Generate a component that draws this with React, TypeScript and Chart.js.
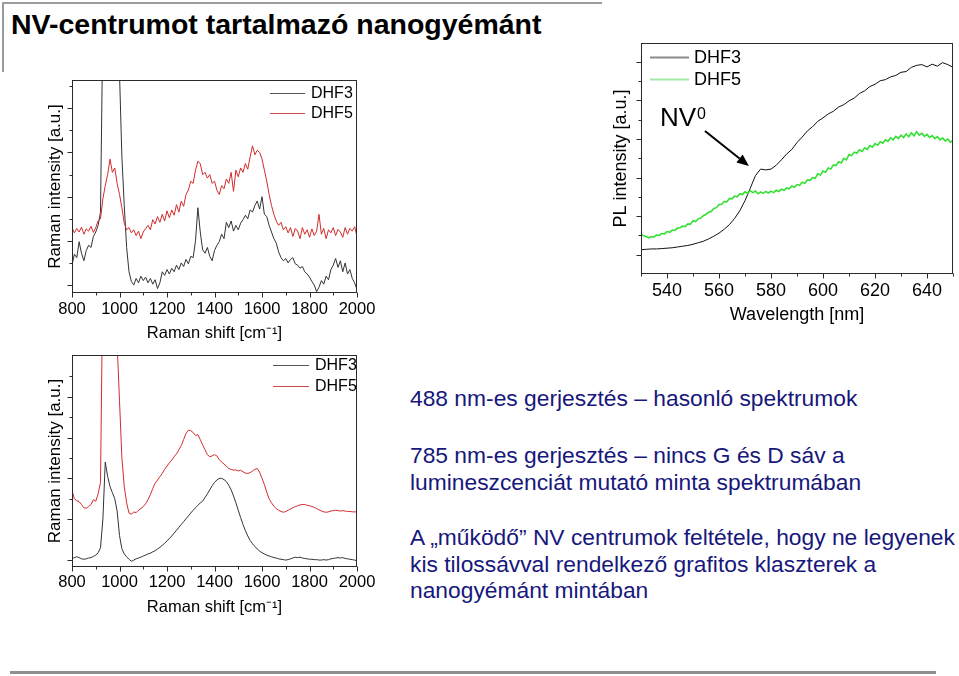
import React, { useEffect, useRef } from "react";
import { Chart, registerables } from "chart.js";

Chart.register(...registerables);

const FONT = "Arial, 'Liberation Sans', Helvetica, sans-serif";

// ---------------- data ----------------
const ramanStart = 800;
const ramanStep = 10;
const ramanTicks = [800, 1000, 1200, 1400, 1600, 1800, 2000];
const ramanMinorTicks = [900, 1100, 1300, 1500, 1700, 1900];

// top-left Raman spectra (800..2000 cm-1, every 10 cm-1)
const ramanTopDHF3 = [
  0.45, 0.70, 0.62, 0.98, 0.72, 0.55, 0.78, 0.90, 0.85, 1.10, 1.20,
  1.35, 1.65, 6.00, 8.00, 9.00, 9.00, 8.50, 7.00, 6.00, 4.80,
  2.90, 1.80, 0.85, 0.30, 0.08, 0.00, 0.15, 0.05, 0.20, 0.10,
  0.18, 0.05, 0.15, 0.02, 0.12, -0.08, 0.05, 0.30, 0.22, 0.35,
  0.25, 0.38, 0.30, 0.45, 0.35, 0.50, 0.42, 0.58, 0.48, 0.65,
  0.62, 1.00, 1.75, 1.20, 0.80, 0.72, 0.85, 0.65, 0.55, 0.78,
  0.90, 0.98, 1.15, 1.05, 1.42, 1.30, 1.45, 1.22, 1.35, 1.25,
  1.40, 1.48, 1.58, 1.50, 1.70, 1.65, 1.80, 1.90, 1.72, 2.00,
  1.60, 1.55, 1.35, 1.20, 1.05, 0.95, 0.75, 0.62, 0.55, 0.60,
  0.50, 0.58, 0.62, 0.48, 0.45, 0.38, 0.42, 0.30, 0.25, 0.18,
  0.08, 0.00, -0.15, -0.05, 0.10, 0.02, 0.20, 0.12, 0.35, 0.45,
  0.60, 0.40, 0.55, 0.30, 0.50, 0.25, 0.35, 0.15, 0.05, -0.10,
];
const ramanTopDHF5 = [
  1.30, 1.18, 1.28, 1.20, 1.31, 1.15, 1.27, 1.22, 1.33, 1.19, 1.30,
  1.45, 1.50, 1.95, 2.25, 2.50, 2.85, 2.55, 2.65, 2.30, 2.05,
  1.75, 1.40, 1.25, 1.30, 1.18, 1.25, 1.12, 1.22, 1.05, 1.20,
  1.28, 1.35, 1.25, 1.48, 1.38, 1.55, 1.42, 1.60, 1.45, 1.68,
  1.52, 1.70, 1.58, 1.82, 1.65, 1.90, 1.78, 2.05, 2.15, 2.35,
  2.30, 2.60, 2.80, 2.75, 2.50, 2.55, 2.42, 2.50, 2.30, 2.35,
  2.15, 2.05, 2.25, 2.18, 2.40, 2.30, 2.55, 2.12, 2.60, 2.45,
  2.65, 2.55, 2.75, 2.62, 2.90, 3.15, 2.95, 3.05, 3.00, 2.85,
  2.60, 2.35, 2.05, 1.80, 1.60, 1.45, 1.35, 1.42, 1.25, 1.32,
  1.18, 1.30, 1.10, 1.28, 1.22, 1.05, 1.30, 1.15, 1.25, 1.08,
  1.27, 1.12, 1.22, 1.60, 1.15, 1.28, 1.05, 1.25, 1.18, 1.30,
  1.12, 1.26, 1.20, 1.08, 1.30, 1.15, 1.28, 1.22, 1.32, 1.10,
];

// bottom-left Raman spectra (800..2000 cm-1, every 10 cm-1)
const ramanBottomDHF3 = [
  0.04, 0.06, 0.08, 0.06, 0.03, 0.02, 0.03, 0.05, 0.06, 0.09, 0.12,
  0.18, 0.30, 1.00, 2.40, 2.05, 1.80, 1.65, 1.50, 1.20, 0.60,
  0.28, 0.15, 0.08, 0.02, -0.03, 0.00, 0.03, 0.05, 0.07, 0.10,
  0.12, 0.15, 0.17, 0.20, 0.23, 0.27, 0.31, 0.36, 0.41, 0.47,
  0.53, 0.59, 0.66, 0.73, 0.80, 0.87, 0.94, 1.01, 1.08, 1.15,
  1.22, 1.28, 1.34, 1.40, 1.44, 1.53, 1.62, 1.72, 1.82, 1.90,
  1.96, 2.00, 2.00, 1.97, 1.92, 1.83, 1.72, 1.57, 1.40, 1.22,
  1.04, 0.87, 0.72, 0.59, 0.48, 0.40, 0.33, 0.27, 0.22, 0.18,
  0.15, 0.12, 0.10, 0.08, 0.06, 0.05, 0.03, 0.02, 0.01, 0.00,
  0.01, 0.03, 0.05, 0.07, 0.06, 0.07, 0.05, 0.04, 0.03, 0.02,
  0.02, 0.01, 0.01, 0.00, 0.00, 0.01, 0.00, 0.01, 0.03, 0.04,
  0.05, 0.06, 0.05, 0.06, 0.04, 0.03, 0.02, 0.01, 0.00, -0.02,
];
const ramanBottomDHF5 = [
  1.70, 1.50, 1.45, 1.43, 1.36, 1.28, 1.27, 1.31, 1.36, 1.48, 1.44,
  1.62, 1.90, 7.00, 9.00, 10.0, 9.50, 8.00, 6.50, 5.30, 3.90,
  2.50, 1.80, 1.40, 1.15, 1.12, 1.18, 1.16, 1.22, 1.26, 1.31,
  1.38, 1.48, 1.60, 1.75, 1.88, 1.96, 2.04, 2.12, 2.22, 2.30,
  2.38, 2.45, 2.53, 2.60, 2.70, 2.80, 2.95, 3.10, 3.18, 3.17,
  3.12, 3.05, 3.07, 2.95, 2.82, 2.70, 2.58, 2.53, 2.55, 2.58,
  2.55, 2.46, 2.40, 2.35, 2.30, 2.24, 2.22, 2.20, 2.21, 2.18,
  2.20, 2.16, 2.13, 2.12, 2.14, 2.18, 2.22, 2.24, 2.15, 2.00,
  1.85, 1.66, 1.50, 1.40, 1.32, 1.26, 1.22, 1.19, 1.17, 1.19,
  1.22, 1.25, 1.28, 1.31, 1.33, 1.35, 1.36, 1.36, 1.34, 1.33,
  1.31, 1.29, 1.26, 1.23, 1.20, 1.18, 1.17, 1.18, 1.20, 1.21,
  1.22, 1.21, 1.20, 1.21, 1.20, 1.19, 1.19, 1.18, 1.18, 1.18,
];

// PL spectra (530..650 nm)
const plStart = 530;
const plDHF3Step = 2;
const plDHF5Step = 1;
const plTicks = [540, 560, 580, 600, 620, 640];
const plMinorTicks = [530, 550, 570, 590, 610, 630, 650];
const plDHF3 = [
  0.13, 0.14, 0.15, 0.15, 0.16, 0.17, 0.18, 0.20, 0.22, 0.24,
  0.27, 0.31, 0.35, 0.41, 0.48, 0.56, 0.66, 0.78, 0.94, 1.14,
  1.40, 1.72, 2.05, 2.22, 2.20, 2.22, 2.32, 2.46, 2.61, 2.73,
  2.91, 3.05, 3.21, 3.32, 3.46, 3.55, 3.65, 3.72, 3.83, 3.89,
  3.99, 4.06, 4.18, 4.25, 4.36, 4.42, 4.51, 4.54, 4.61, 4.65,
  4.73, 4.75, 4.86, 4.91, 4.93, 4.87, 4.94, 4.89, 4.98, 4.93,
  4.86,
];
const plDHF5 = [
  0.53, 0.49, 0.47, 0.44, 0.47, 0.46, 0.51, 0.50, 0.55, 0.54,
  0.60, 0.58, 0.64, 0.63, 0.69, 0.70, 0.74, 0.73, 0.80, 0.79,
  0.88, 0.86, 0.93, 0.95, 1.01, 1.05, 1.10, 1.12, 1.20, 1.22,
  1.30, 1.31, 1.38, 1.37, 1.46, 1.45, 1.52, 1.50, 1.58, 1.56,
  1.63, 1.59, 1.66, 1.61, 1.65, 1.58, 1.63, 1.59, 1.64, 1.60,
  1.65, 1.61, 1.67, 1.64, 1.70, 1.67, 1.73, 1.71, 1.78, 1.75,
  1.82, 1.80, 1.88, 1.85, 1.94, 1.93, 2.00, 1.98, 2.10, 2.07,
  2.17, 2.14, 2.25, 2.22, 2.33, 2.31, 2.41, 2.38, 2.50, 2.46,
  2.60, 2.57, 2.66, 2.63, 2.72, 2.68, 2.77, 2.73, 2.83, 2.79,
  2.88, 2.84, 2.93, 2.89, 2.98, 2.94, 3.03, 2.98, 3.07, 3.01,
  3.10, 3.04, 3.13, 3.06, 3.16, 3.08, 3.19, 3.10, 3.15, 3.07,
  3.12, 3.04, 3.09, 3.01, 3.06, 2.98, 3.03, 2.95, 3.00, 2.92,
  2.96,
];

const toPoints = (start: number, step: number, arr: number[]) =>
  arr.map((v, i) => ({ x: start + i * step, y: v }));

// ---------------- plugin: frame, ticks, legend, annotation ----------------
const decorPlugin = {
  id: "decor",
  afterDraw(chart: any, _args: any, o: any) {
    const { ctx, chartArea: a, scales } = chart;
    const xs = scales.x;
    const ys = scales.y;
    ctx.save();
    const L = Math.round(a.left) + 0.5;
    const R = Math.round(a.right) - 0.5;
    const T = Math.round(a.top) + 0.5;
    const B = Math.round(a.bottom) - 0.5;
    ctx.strokeStyle = "#2a2a2a";
    ctx.lineWidth = 1;
    ctx.strokeRect(L, T, R - L, B - T);
    ctx.beginPath();
    const xt = (vals: number[], len: number) =>
      vals.forEach((v) => {
        const p = Math.round(xs.getPixelForValue(v)) + 0.5;
        ctx.moveTo(p, B);
        ctx.lineTo(p, B + len);
      });
    const yt = (vals: number[], len: number) =>
      vals.forEach((v) => {
        const p = Math.round(ys.getPixelForValue(v)) + 0.5;
        ctx.moveTo(L, p);
        ctx.lineTo(L - len, p);
      });
    xt(o.xMajor, 5);
    xt(o.xMinor, 3);
    yt(o.yMajor, 5);
    yt(o.yMinor, 3);
    ctx.stroke();

    // legend
    const lg = o.legend;
    ctx.font = `${lg.font}px ${FONT}`;
    ctx.textBaseline = "middle";
    ctx.textAlign = "left";
    lg.items.forEach((it: any, i: number) => {
      const y = lg.y + i * lg.dy;
      ctx.strokeStyle = it.color;
      ctx.lineWidth = lg.lineWidth;
      ctx.beginPath();
      ctx.moveTo(lg.x1, y + 0.5);
      ctx.lineTo(lg.x2, y + 0.5);
      ctx.stroke();
      ctx.fillStyle = "#000";
      ctx.fillText(it.label, lg.tx, y + 1);
    });

    // annotation
    const an = o.annotation;
    if (an) {
      const tx = xs.getPixelForValue(an.x);
      const ty = ys.getPixelForValue(an.y);
      ctx.fillStyle = "#000";
      ctx.textBaseline = "alphabetic";
      ctx.font = `${an.font}px ${FONT}`;
      ctx.fillText(an.text, tx, ty);
      const w = ctx.measureText(an.text).width;
      ctx.font = `${an.supFont}px ${FONT}`;
      ctx.fillText(an.sup, tx + w + 1, ty - an.supRise);
      const x1 = xs.getPixelForValue(an.ax1);
      const y1 = ys.getPixelForValue(an.ay1);
      const x2 = xs.getPixelForValue(an.ax2);
      const y2 = ys.getPixelForValue(an.ay2);
      const ang = Math.atan2(y2 - y1, x2 - x1);
      const hl = 12;
      const hw = 5;
      const bx = x2 - hl * Math.cos(ang);
      const by = y2 - hl * Math.sin(ang);
      ctx.strokeStyle = "#000";
      ctx.lineWidth = 2;
      ctx.beginPath();
      ctx.moveTo(x1, y1);
      ctx.lineTo(bx, by);
      ctx.stroke();
      ctx.beginPath();
      ctx.moveTo(x2, y2);
      ctx.lineTo(bx + hw * Math.sin(ang), by - hw * Math.cos(ang));
      ctx.lineTo(bx - hw * Math.sin(ang), by + hw * Math.cos(ang));
      ctx.closePath();
      ctx.fill();
    }
    ctx.restore();
  },
};

// ---------------- chart specs ----------------
const ramanTitle = "Raman shift [cm\u207B\u00B9]";

const specTop = {
  width: 345,
  height: 280,
  padding: { left: 0, top: 10, right: 28, bottom: 0 },
  yWidth: 32,
  xHeight: 57,
  xMin: 800,
  xMax: 2000,
  yMin: -0.18,
  yMax: 4.64,
  xTicks: ramanTicks,
  xMinor: ramanMinorTicks,
  yMajor: [0, 1, 2, 3, 4],
  yMinor: [0.5, 1.5, 2.5, 3.5, 4.5],
  tickFont: 16.5,
  tickPadding: 7,
  titleFont: 16.5,
  yTitleFont: 17,
  xTitle: ramanTitle,
  yTitle: "Raman intensity [a.u.]",
  xTitlePad: 7,
  yTitlePad: 5,
  datasets: [
    { label: "DHF5", data: toPoints(ramanStart, ramanStep, ramanTopDHF5), color: "#d22b2b", width: 1 },
    { label: "DHF3", data: toPoints(ramanStart, ramanStep, ramanTopDHF3), color: "#333333", width: 1 },
  ],
  legend: {
    font: 16, x1: 230, x2: 265, tx: 271, y: 23, dy: 20, lineWidth: 1,
    items: [
      { label: "DHF3", color: "#555555" },
      { label: "DHF5", color: "#d04848" },
    ],
  },
  annotation: null,
};

const specBottom = {
  ...specTop,
  padding: { left: 0, top: 10, right: 28, bottom: 0 },
  xHeight: 58,
  yMin: -0.17,
  yMax: 5.02,
  yMajor: [0, 1, 2, 3, 4],
  yMinor: [0.5, 1.5, 2.5, 3.5, 4.5],
  tickPadding: 6,
  xTitlePad: 8,
  datasets: [
    { label: "DHF5", data: toPoints(ramanStart, ramanStep, ramanBottomDHF5), color: "#d22b2b", width: 1 },
    { label: "DHF3", data: toPoints(ramanStart, ramanStep, ramanBottomDHF3), color: "#333333", width: 1 },
  ],
  legend: {
    font: 16, x1: 233, x2: 269, tx: 275, y: 20, dy: 21, lineWidth: 1,
    items: [
      { label: "DHF3", color: "#555555" },
      { label: "DHF5", color: "#d04848" },
    ],
  },
};

const specPL = {
  width: 359,
  height: 300,
  padding: { left: 0, top: 13, right: 6, bottom: 0 },
  yWidth: 41,
  xHeight: 56,
  xMin: 530,
  xMax: 650,
  yMin: -0.5,
  yMax: 5.49,
  xTicks: plTicks,
  xMinor: plMinorTicks,
  yMajor: [0, 1, 2, 3, 4, 5],
  yMinor: [0.5, 1.5, 2.5, 3.5, 4.5],
  tickFont: 18,
  tickPadding: 6,
  titleFont: 18,
  yTitleFont: 18,
  xTitle: "Wavelength [nm]",
  yTitle: "PL intensity [a.u.]",
  xTitlePad: 4,
  yTitlePad: 10,
  datasets: [
    { label: "DHF5", data: toPoints(plStart, plDHF5Step, plDHF5), color: "#33e033", width: 1.6 },
    { label: "DHF3", data: toPoints(plStart, plDHF3Step, plDHF3), color: "#111111", width: 1 },
  ],
  legend: {
    font: 18, x1: 50, x2: 89, tx: 94, y: 27, dy: 22, lineWidth: 2,
    items: [
      { label: "DHF3", color: "#8c8c8c" },
      { label: "DHF5", color: "#a6e8a6" },
    ],
  },
  annotation: {
    text: "NV", sup: "0", x: 537.3, y: 3.34, font: 26, supFont: 16, supRise: 7,
    ax1: 554.6, ay1: 3.21, ax2: 571.5, ay2: 2.3,
  },
};

function buildConfig(s: any): any {
  return {
    type: "line",
    data: {
      datasets: s.datasets.map((d: any) => ({
        label: d.label,
        data: d.data,
        borderColor: d.color,
        borderWidth: d.width,
        pointRadius: 0,
        fill: false,
        tension: 0,
      })),
    },
    plugins: [decorPlugin],
    options: {
      responsive: false,
      animation: false,
      devicePixelRatio: 1,
      events: [],
      layout: { padding: s.padding },
      plugins: {
        legend: { display: false },
        tooltip: { enabled: false },
        decor: {
          xMajor: s.xTicks,
          xMinor: s.xMinor,
          yMajor: s.yMajor,
          yMinor: s.yMinor,
          legend: s.legend,
          annotation: s.annotation,
        },
      },
      scales: {
        x: {
          type: "linear",
          min: s.xMin,
          max: s.xMax,
          grid: { display: false, drawTicks: false },
          border: { display: false },
          ticks: {
            autoSkip: false,
            maxRotation: 0,
            padding: s.tickPadding,
            color: "#000",
            font: { size: s.tickFont, family: FONT },
            callback: (v: any) => String(v),
          },
          afterBuildTicks: (sc: any) => {
            sc.ticks = s.xTicks.map((v: number) => ({ value: v }));
          },
          afterFit: (sc: any) => {
            sc.height = s.xHeight;
            sc.paddingLeft = 0;
            sc.paddingRight = 0;
          },
          title: {
            display: true,
            text: s.xTitle,
            color: "#000",
            font: { size: s.titleFont, family: FONT },
            padding: { top: 0, bottom: s.xTitlePad },
          },
        },
        y: {
          type: "linear",
          min: s.yMin,
          max: s.yMax,
          grid: { display: false, drawTicks: false },
          border: { display: false },
          ticks: { display: false },
          afterFit: (sc: any) => {
            sc.width = s.yWidth;
            sc.paddingTop = 0;
            sc.paddingBottom = 0;
          },
          title: {
            display: true,
            text: s.yTitle,
            color: "#000",
            font: { size: s.yTitleFont, family: FONT },
            padding: { top: s.yTitlePad, bottom: 0 },
          },
        },
      },
    },
  };
}

function SpectrumChart({ spec, left, top }: { spec: any; left: number; top: number }) {
  const ref = useRef<HTMLCanvasElement>(null);
  useEffect(() => {
    if (!ref.current) return;
    const chart = new Chart(ref.current, buildConfig(spec));
    return () => chart.destroy();
  }, [spec]);
  return (
    <canvas
      ref={ref}
      width={spec.width}
      height={spec.height}
      style={{ position: "absolute", left, top, width: spec.width, height: spec.height }}
    />
  );
}

const textColor = "#17177c";

export default function App() {
  const lineStyle: React.CSSProperties = { whiteSpace: "nowrap" };
  const para: React.CSSProperties = {
    position: "absolute",
    left: 410,
    fontSize: 22.8,
    lineHeight: "26.5px",
    color: textColor,
  };
  return (
    <div
      style={{
        position: "absolute",
        left: 0,
        top: 0,
        width: 959,
        height: 676,
        overflow: "hidden",
        background: "#fff",
        fontFamily: FONT,
      }}
    >
      <div style={{ position: "absolute", left: 2, top: 2, width: 600, height: 2, background: "#9c9c9c" }} />
      <div style={{ position: "absolute", left: 2, top: 2, width: 2, height: 70, background: "#9c9c9c" }} />
      <div style={{ position: "absolute", left: 10, top: 671, width: 926, height: 3, background: "#8e8e8e" }} />
      <div
        style={{
          position: "absolute",
          left: 11,
          top: 10,
          fontSize: 28.5,
          lineHeight: "28.5px",
          fontWeight: "bold",
          color: "#000",
          whiteSpace: "nowrap",
        }}
      >
        NV-centrumot tartalmazó nanogyémánt
      </div>

      <SpectrumChart spec={specTop} left={40} top={70} />
      <SpectrumChart spec={specPL} left={600} top={30} />
      <SpectrumChart spec={specBottom} left={40} top={345} />

      <div style={{ ...para, top: 385 }}>
        <div style={lineStyle}>488 nm-es gerjesztés – hasonló spektrumok</div>
      </div>
      <div style={{ ...para, top: 442 }}>
        <div style={lineStyle}>785 nm-es gerjesztés – nincs G és D sáv a</div>
        <div style={lineStyle}>lumineszcenciát mutató minta spektrumában</div>
      </div>
      <div style={{ ...para, top: 524 }}>
        <div style={lineStyle}>A „működő” NV centrumok feltétele, hogy ne legyenek</div>
        <div style={lineStyle}>kis tilossávval rendelkező grafitos klaszterek a</div>
        <div style={lineStyle}>nanogyémánt mintában</div>
      </div>
    </div>
  );
}
